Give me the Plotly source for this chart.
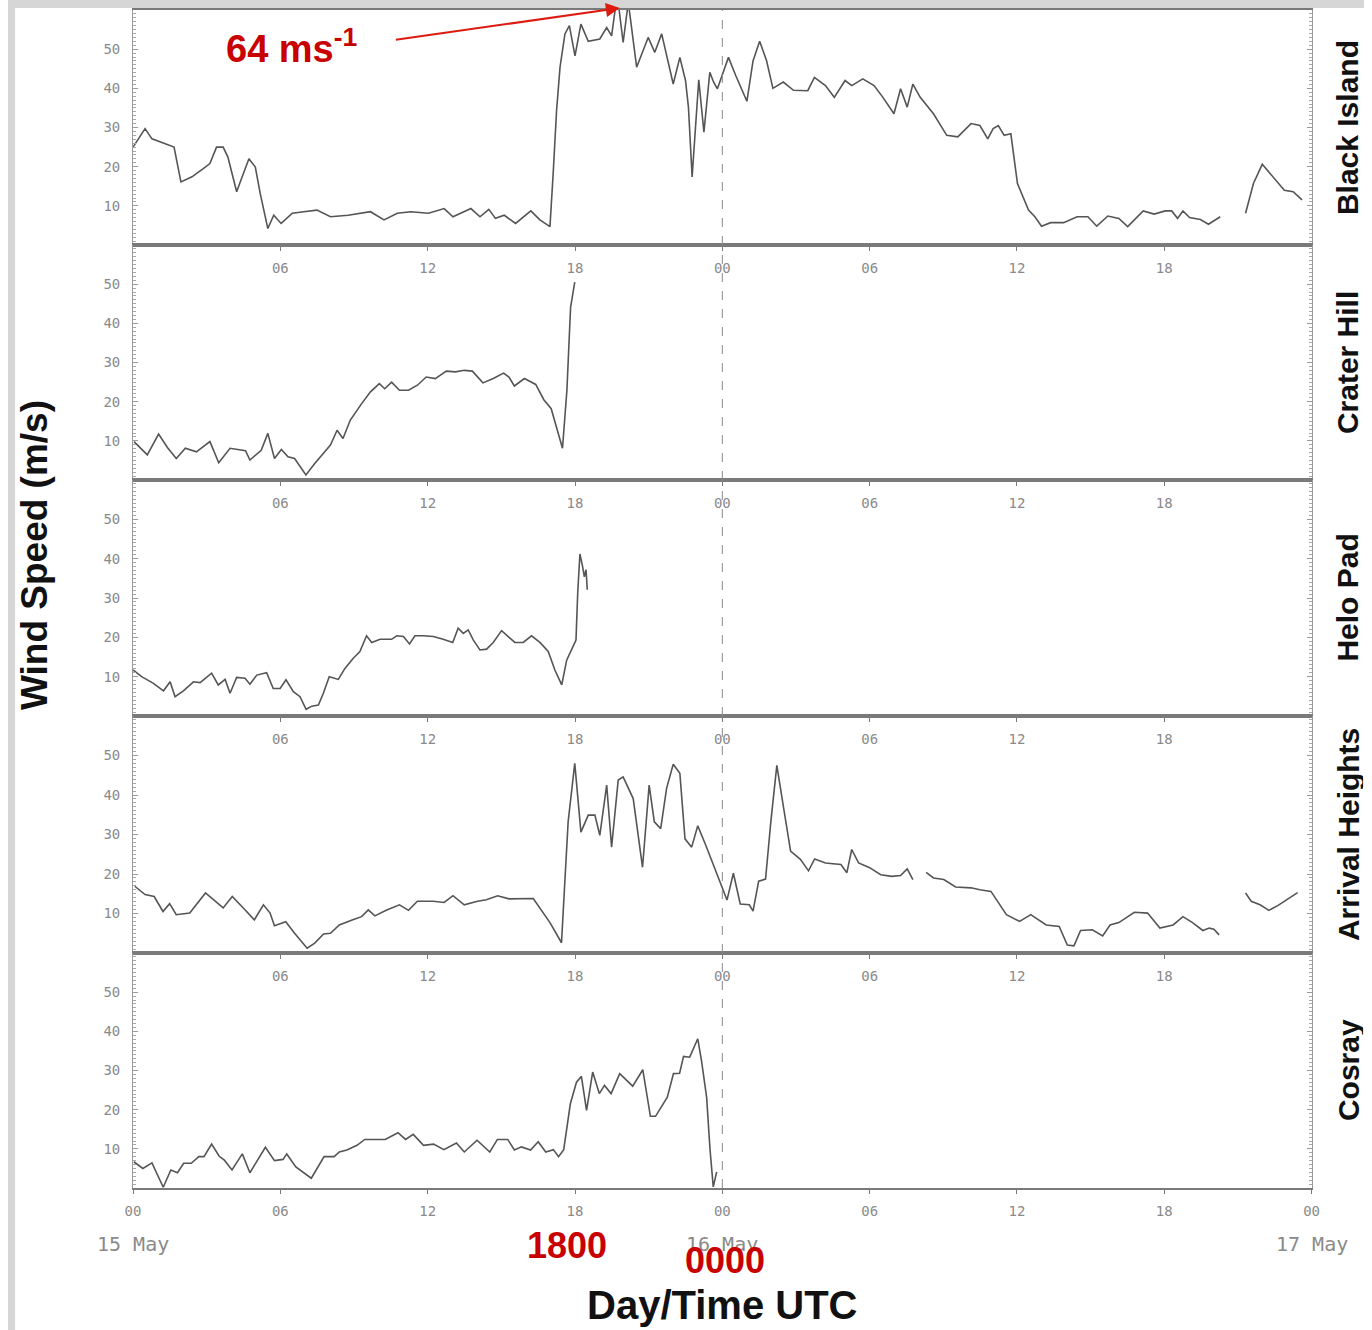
import plotly.graph_objects as go

# Figure size and the measured placement of the figure in the captured picture:
# picture_x = (figure_x + 8) * S, picture_y = figure_y.  All positions below are
# given in reference-picture pixels and converted with fx / fy.
W, H = 1372, 1330
S = 0.9887
OFFX = 8

# ---- data: hours since 00 UTC 15 May, wind speed (m/s); None = data gap ----
stations = ["Black Island", "Crater Hill", "Helo Pad", "Arrival Heights", "Cosray"]

bi_t = [0.0, 0.49, 0.77, 1.31, 1.67, 1.95, 2.4, 2.86, 3.13, 3.4, 3.67, 3.86, 4.22, 4.49, 4.72, 4.98,
        5.18, 5.49, 5.73, 6.03, 6.49, 6.95, 7.49, 8.04, 8.76, 9.67, 10.22, 10.76, 11.31, 12.03, 12.67,
        13.03, 13.76, 14.13, 14.49, 14.76, 15.12, 15.58, 16.2, 16.57, 16.98, 17.11, 17.25, 17.39, 17.59,
        17.77, 18.0, 18.24, 18.54, 19.01, 19.29, 19.49, 19.72, 19.96, 20.17, 20.51, 20.98, 21.25, 21.53,
        22.0, 22.27, 22.5, 22.62, 22.77, 22.88, 23.04, 23.25, 23.49, 23.65, 23.8, 24.25, 24.55, 25.0,
        25.25, 25.52, 25.8, 26.06, 26.48, 26.9, 27.48, 27.75, 28.2, 28.56, 29.0, 29.27, 29.72, 30.18,
        30.54, 30.99, 31.26, 31.53, 31.76, 32.06, 32.6, 33.14, 33.59, 34.13, 34.49, 34.81, 35.03, 35.24,
        35.48, 35.75, 36.02, 36.47, 36.73, 37.0, 37.37, 37.9, 38.45, 38.89, 39.25, 39.7, 40.15, 40.51,
        41.14, 41.59, 42.04, 42.3, 42.54, 42.76, 43.03, 43.47, 43.8, 44.28, None,
        45.31, 45.63, 45.99, 46.44, 46.89, 47.25, 47.61]
bi_v = [25.0, 29.7, 27.1, 25.9, 25.0, 16.1, 17.4, 19.5, 20.8, 25.0, 25.0, 22.5, 13.6, 18.2, 22.0, 19.9,
        13.1, 4.2, 7.6, 5.5, 8.1, 8.5, 8.9, 7.2, 7.6, 8.5, 6.4, 8.1, 8.5, 8.1, 9.3,
        7.2, 9.3, 7.2, 9.1, 6.8, 7.6, 5.5, 8.7, 6.4, 4.7, 18.2, 34.4, 45.4, 53.9,
        56.0, 48.3, 56.4, 52.0, 52.6, 55.5, 53.4, 64.0, 51.7, 62.0, 45.4, 53.0, 49.2, 53.9,
        41.1, 47.9, 42.0, 35.2, 17.4, 28.4, 42.2, 28.8, 44.1, 41.5, 39.9, 47.9, 43.2, 36.7,
        47.0, 52.0, 47.1, 40.0, 41.6, 39.5, 39.4, 42.8, 40.7, 37.7, 42.0, 40.7, 42.4, 40.7,
        37.7, 33.5, 39.9, 35.2, 41.1, 37.7, 33.5, 28.0, 27.6, 31.0, 30.5, 27.1, 29.7, 30.5,
        28.0, 28.4, 15.7, 8.9, 7.2, 4.8, 5.7, 5.7, 7.2, 7.2, 4.8, 7.4, 6.8, 4.7,
        8.7, 7.9, 8.7, 8.7, 6.8, 8.7, 7.0, 6.5, 5.3, 7.2, None,
        8.1, 15.7, 20.6, 17.4, 14.0, 13.6, 11.5]

ch_t = [0.04, 0.58, 1.04, 1.4, 1.76, 2.13, 2.58, 3.13, 3.49, 3.95, 4.58, 4.76, 5.22, 5.49, 5.76, 6.04,
        6.31, 6.58, 7.04, 7.4, 8.04, 8.31, 8.55, 8.85, 9.31, 9.67, 10.03, 10.25, 10.53, 10.85, 11.22,
        11.58, 11.94, 12.31, 12.76, 13.13, 13.49, 13.82, 14.25, 14.67, 15.09, 15.31, 15.53, 15.94, 16.4,
        16.73, 17.03, 17.49, 17.67, 17.76, 17.82, 17.99]
ch_v = [9.8, 6.4, 11.7, 8.3, 5.5, 8.1, 7.2, 9.8, 4.4, 8.1, 7.5, 5.1, 7.6, 11.9, 5.5, 7.8,
        5.9, 5.5, 1.3, 4.2, 8.9, 12.7, 10.6, 15.3, 19.5, 22.5, 24.6, 23.3, 25.0, 22.9, 22.9,
        24.2, 26.3, 25.9, 27.8, 27.6, 28.0, 27.8, 24.8, 25.9, 27.3, 26.3, 24.0, 25.9, 24.4,
        20.5, 18.2, 8.1, 22.9, 35.6, 44.1, 50.5]

hp_t = [0.0, 0.35, 0.83, 1.24, 1.51, 1.71, 2.05, 2.46, 2.73, 3.2, 3.47, 3.75, 3.95, 4.22, 4.56, 4.76,
        5.04, 5.44, 5.71, 5.99, 6.23, 6.53, 6.8, 7.05, 7.28, 7.55, 7.75, 7.99, 8.36, 8.63, 8.97, 9.24,
        9.51, 9.72, 10.06, 10.53, 10.74, 11.01, 11.26, 11.48, 11.82, 12.23, 12.63, 13.02, 13.24, 13.45,
        13.65, 13.86, 14.13, 14.4, 14.67, 15.01, 15.28, 15.55, 15.89, 16.23, 16.57, 16.91, 17.18, 17.46,
        17.66, 17.91, 18.04, 18.11, 18.2, 18.31, 18.38, 18.45, 18.5]
hp_v = [11.7, 10.0, 8.3, 6.4, 8.7, 4.9, 6.4, 8.7, 8.5, 10.9, 7.9, 9.3, 5.8, 9.8, 9.6, 8.1,
        10.4, 11.0, 7.0, 7.0, 9.2, 6.2, 4.9, 1.7, 2.5, 2.8, 5.8, 10.0, 9.3, 12.1, 14.7, 16.4,
        20.4, 18.7, 19.5, 19.5, 20.4, 20.2, 18.3, 20.4, 20.4, 20.2, 19.5, 18.7, 22.3, 21.0,
        21.9, 19.3, 16.8, 17.0, 18.7, 21.7, 20.2, 18.7, 18.7, 20.4, 18.7, 16.4, 11.7, 7.9,
        14.2, 17.6, 19.3, 31.2, 41.2, 38.0, 35.4, 37.2, 32.1]

ah_t = [0.07, 0.49, 0.86, 1.22, 1.49, 1.76, 2.31, 2.95, 3.67, 4.04, 4.49, 4.94, 5.31, 5.58, 5.76, 6.22,
        6.58, 7.09, 7.4, 7.76, 8.04, 8.4, 8.95, 9.31, 9.58, 9.85, 10.31, 10.85, 11.22, 11.58, 12.22,
        12.67, 13.03, 13.49, 14.03, 14.39, 14.85, 15.31, 16.3, 16.98, 17.45, 17.72, 17.99, 18.24, 18.54,
        18.81, 19.01, 19.29, 19.49, 19.76, 19.96, 20.37, 20.75, 21.02, 21.23, 21.49, 21.73, 22.0, 22.27,
        22.48, 22.75, 23.0, 23.33, 23.74, 24.19, 24.45, 24.73, 25.1, 25.25, 25.48, 25.76, 25.98, 26.22,
        26.45, 26.78, 27.18, 27.51, 27.76, 28.2, 28.83, 29.07, 29.27, 29.55, 30.0, 30.45, 30.9, 31.26,
        31.53, 31.76, None,
        32.3, 32.6, 33.02, 33.5, 34.13, 34.49, 34.94, 35.21, 35.57, 36.11, 36.56, 37.19, 37.72, 38.05,
        38.32, 38.59, 39.07, 39.49, 39.79, 40.15, 40.78, 41.32, 41.82, 42.36, 42.76, 43.15, 43.57, 43.83,
        44.02, 44.23, None,
        45.31, 45.54, 45.9, 46.26, 46.62, 46.98, 47.43]
ah_v = [16.9, 14.8, 14.3, 10.5, 12.5, 9.7, 10.1, 15.2, 11.4, 14.3, 11.4, 8.4, 12.2, 10.1, 6.9, 7.9,
        5.0, 1.2, 2.5, 4.8, 5.0, 7.1, 8.4, 9.2, 10.9, 9.4, 10.8, 12.2, 10.8, 13.1, 13.1,
        12.8, 14.5, 12.2, 13.1, 13.5, 14.5, 13.7, 13.8, 7.7, 2.6, 33.2, 48.0, 30.6, 34.9,
        34.9, 29.8, 42.5, 26.8, 43.8, 44.6, 39.1, 21.7, 42.5, 33.2, 31.5, 41.7, 47.8, 45.5,
        28.9, 26.8, 32.2, 27.2, 20.4, 13.4, 20.2, 12.4, 12.2, 10.6, 18.2, 18.7, 33.5, 47.5,
        38.5, 25.8, 23.7, 20.8, 23.8, 22.8, 22.4, 20.3, 26.2, 22.8, 21.6, 19.8, 19.4, 19.6,
        21.3, 18.6, None,
        20.4, 19.0, 18.6, 16.7, 16.5, 16.0, 15.6, 13.1, 9.7, 8.0, 9.7, 7.1, 6.7, 2.0,
        1.8, 5.7, 5.9, 4.3, 7.1, 7.7, 10.3, 10.1, 6.3, 7.1, 9.2, 7.7, 5.7, 6.3,
        6.0, 4.6, None,
        15.2, 13.1, 12.2, 10.8, 12.0, 13.5, 15.3]

cr_t = [0.03, 0.4, 0.77, 1.23, 1.54, 1.81, 2.06, 2.37, 2.68, 2.89, 3.2, 3.51, 3.72, 4.03, 4.45, 4.76,
        5.39, 5.76, 6.11, 6.26, 6.63, 7.26, 7.78, 8.19, 8.4, 8.71, 9.12, 9.44, 10.27, 10.79, 11.1,
        11.41, 11.83, 12.24, 12.66, 13.17, 13.49, 14.01, 14.53, 14.84, 15.26, 15.53, 15.82, 16.19, 16.5,
        16.81, 17.12, 17.33, 17.54, 17.81, 18.06, 18.26, 18.47, 18.72, 18.99, 19.2, 19.47, 19.82, 20.35,
        20.76, 21.07, 21.28, 21.76, 22.01, 22.26, 22.42, 22.67, 23.0, 23.15, 23.36, 23.5, 23.63, 23.77]
cr_v = [6.7, 5.0, 6.4, 0.2, 4.6, 3.9, 6.3, 6.3, 8.0, 8.0, 11.2, 8.1, 7.1, 4.6, 8.7, 3.9,
        10.4, 7.0, 7.3, 8.7, 5.4, 2.5, 8.0, 8.0, 9.2, 9.7, 10.9, 12.4, 12.4, 14.1, 12.4,
        13.7, 10.9, 11.2, 9.8, 11.5, 9.2, 12.2, 9.2, 12.4, 12.4, 9.7, 10.5, 9.7, 11.8,
        9.2, 9.8, 8.0, 9.8, 21.5, 27.0, 28.5, 19.8, 29.6, 24.1, 26.2, 24.1, 29.2, 26.0,
        30.2, 18.3, 18.3, 23.2, 29.2, 29.3, 33.6, 33.4, 38.1, 32.6, 23.2, 9.7, 0.3, 4.1]

tick_vals = [0, 6, 12, 18, 24, 30, 36, 42, 48]
tick_text = ["00", "06", "12", "18", "00", "06", "12", "18", "00"]
y_ticks = [10, 20, 30, 40, 50]
day_labels = ["15 May", "16 May", "17 May"]
day_hours = [0, 24, 48]

series = [(bi_t, bi_v), (ch_t, ch_v), (hp_t, hp_v), (ah_t, ah_v), (cr_t, cr_v)]

# ---- layout geometry, in reference-picture pixels ----
X0, X1 = 133, 1312
panel_edges = [10, 245, 480, 716, 953, 1188]

def fx(p):
    return (p / S - OFFX) / W

def fy(p):
    return 1 - p / H

fig = go.Figure()
mono = "DejaVu Sans Mono, Liberation Mono, monospace"
tickfont = dict(family=mono, size=14, color="#8a8a8a")
sans = "Liberation Sans, Arial, sans-serif"

shapes = []
annotations = []
for i, (t, v) in enumerate(series):
    n = i + 1
    xa = "x" if n == 1 else f"x{n}"
    ya = "y" if n == 1 else f"y{n}"
    fig.add_trace(go.Scatter(x=t, y=v, mode="lines", xaxis=xa, yaxis=ya,
                             line=dict(color="#555555", width=1.6),
                             connectgaps=False, hoverinfo="skip"))
    top, bot = panel_edges[i], panel_edges[i + 1]
    last = (n == 5)
    tv = tick_vals if last else tick_vals[1:-1]
    tt = tick_text if last else tick_text[1:-1]
    fig.layout[f"xaxis{'' if n == 1 else n}"] = dict(
        domain=[fx(X0), fx(X1)], anchor=ya, range=[0, 48],
        tickvals=tv, ticktext=tt, tickfont=tickfont,
        showline=True, linecolor="#7a7a7a", linewidth=1.5, mirror=True,
        ticks="outside", ticklen=4, tickcolor="#7a7a7a", ticklabelstandoff=5,
        showgrid=False, zeroline=False, fixedrange=True)
    fig.layout[f"yaxis{'' if n == 1 else n}"] = dict(
        domain=[fy(bot), fy(top)], anchor=xa, range=[0, 60],
        tickvals=y_ticks, ticktext=[str(k) for k in y_ticks], tickfont=tickfont,
        showline=True, linecolor="#9a9a9a", linewidth=1, mirror="allticks",
        ticks="inside", ticklen=5, tickcolor="#9a9a9a", ticklabelstandoff=9,
        minor=dict(dtick=1, tick0=0, ticks="inside", ticklen=3, tickcolor="#a8a8a8"),
        showgrid=False, zeroline=False, fixedrange=True)
    shapes.append(dict(type="line", xref=xa, yref=f"{ya} domain", x0=24, x1=24, y0=0, y1=1,
                       line=dict(color="#8a8a8a", width=1, dash="dash"), layer="above"))
    annotations.append(dict(text=f"<b>{stations[i]}</b>", textangle=-90, xref="paper", yref="paper",
                            x=fx(1348), y=fy((top + bot) / 2), xanchor="center", yanchor="middle",
                            height=30, showarrow=False,
                            font=dict(family=sans, size=30, color="#111111")))

# textured grey border of the slide (left and top edges)
shapes.append(dict(type="rect", xref="paper", yref="paper", x0=0, x1=fx(15), y0=0, y1=1,
                   fillcolor="#d6d6d6", line=dict(width=0), layer="below"))
shapes.append(dict(type="rect", xref="paper", yref="paper", x0=0, x1=1, y0=fy(8), y1=1,
                   fillcolor="#d6d6d6", line=dict(width=0), layer="below"))

# day labels under bottom axis
for lbl, hr in zip(day_labels, day_hours):
    annotations.append(dict(text=lbl, xref="x5", yref="paper", x=hr, y=fy(1244),
                            xanchor="center", yanchor="middle", showarrow=False,
                            font=dict(family=mono, size=20, color="#8a8a8a")))

red = "#c80000"
annotations += [
    dict(text="<b>64 ms<sup>-1</sup></b>", xref="paper", yref="paper", x=fx(224), y=fy(46),
         xanchor="left", yanchor="middle", showarrow=False,
         font=dict(family=sans, size=38, color=red)),
    dict(text="", xref="paper", yref="paper", x=fx(620), y=fy(8), ax=-(620 - 397) / S, ay=32,
         showarrow=True, arrowhead=2, arrowsize=1.4, arrowwidth=2, arrowcolor="#dd1a10"),
    dict(text="<b>1800</b>", xref="paper", yref="paper", x=fx(567), y=fy(1245),
         xanchor="center", yanchor="middle", showarrow=False,
         font=dict(family=sans, size=36, color=red)),
    dict(text="<b>0000</b>", xref="paper", yref="paper", x=fx(725), y=fy(1260),
         xanchor="center", yanchor="middle", showarrow=False,
         font=dict(family=sans, size=36, color=red)),
    dict(text="<b>Day/Time UTC</b>", xref="paper", yref="paper", x=fx(722), y=fy(1305),
         xanchor="center", yanchor="middle", showarrow=False,
         font=dict(family=sans, size=40, color="#111111")),
    dict(text="<b>Wind Speed (m/s)</b>", textangle=-90, xref="paper", yref="paper",
         x=fx(34), y=fy(555), xanchor="center", yanchor="middle", showarrow=False,
         font=dict(family=sans, size=37, color="#111111")),
]

fig.update_layout(width=W, height=H, margin=dict(l=0, r=0, t=0, b=0),
                  paper_bgcolor="white", plot_bgcolor="white", showlegend=False,
                  shapes=shapes, annotations=annotations)

fig.write_html("out.html")
